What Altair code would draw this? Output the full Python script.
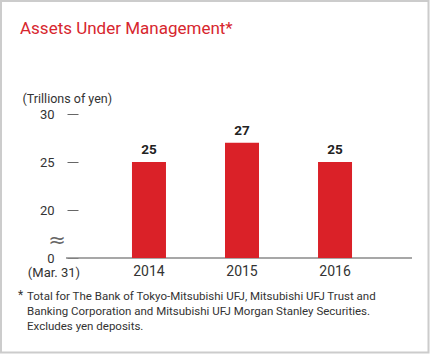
import altair as alt
import pandas as pd

# ---- data ----
years = ["2014", "2015", "2016"]
values = [25, 27, 25]
y_ticks = [15, 20, 25, 30]          # 15 is the axis floor shown as "0" (broken axis)
axis_floor = 15
title_text = "Assets Under Management*"
unit_text = "(Trillions of yen)"
date_text = "(Mar. 31)"
footnote_lines = [
    "Total for The Bank of Tokyo-Mitsubishi UFJ, Mitsubishi UFJ Trust and",
    "Banking Corporation and Mitsubishi UFJ Morgan Stanley Securities.",
    "Excludes yen deposits.",
]

df = pd.DataFrame({"year": years, "value": values})
one = pd.DataFrame({"k": [0]})

RED = "#da2128"
FONT = "Roboto"
W, H = 328, 144
LEFT, TOP = 78, 114

x_enc = alt.X(
    "year:N",
    sort=years,
    scale=alt.Scale(paddingInner=0.634, paddingOuter=0.58),
    axis=alt.Axis(
        title=None, domain=False, ticks=False, labelAngle=0,
        labelFontSize=14, labelColor="#333333", labelPadding=6, labelFont=FONT,
    ),
)
y_enc = alt.Y(
    "value:Q",
    scale=alt.Scale(domain=[axis_floor, 30], zero=False, nice=False),
    axis=alt.Axis(
        values=y_ticks,
        labelExpr="datum.value == 15 ? '0' : datum.label",
        domain=False, grid=False, tickSize=11, tickColor="#666666", tickWidth=1,
        labelFontSize=13, labelColor="#333333", labelPadding=13, labelFont=FONT,
        title=unit_text, titleAngle=0, titleAlign="left", titleBaseline="middle",
        titleX=-56, titleY=-16, titleFontSize=12.5, titleFontWeight="normal",
        titleColor="#333333", titleFont=FONT,
    ),
)

bars = alt.Chart(df).mark_bar(color=RED, size=34).encode(
    x=x_enc, y=y_enc, y2=alt.datum(axis_floor)
)
labels = alt.Chart(df).mark_text(
    baseline="bottom", dy=-5, fontSize=13.5, fontWeight="bold", color="#222222", font=FONT
).encode(x=x_enc, y=y_enc, text="value:Q")

baseline = alt.Chart(one).mark_rule(color="#8a8a8a", strokeWidth=1.5).encode(
    y=alt.datum(axis_floor), x=alt.value(-12), x2=alt.value(334)
)

border = alt.Chart(one).mark_rect(
    fillOpacity=0, stroke="#cccccc", strokeWidth=2
).encode(
    x=alt.value(-LEFT + 1), x2=alt.value(428.5 - LEFT),
    y=alt.value(-TOP + 1), y2=alt.value(352.5 - TOP),
)

title = alt.Chart(one).mark_text(
    text=title_text, align="left", baseline="alphabetic", fontSize=17,
    color="#d7262e", font=FONT,
).encode(x=alt.value(20 - LEFT), y=alt.value(34 - TOP))

wave = alt.Chart(one).mark_text(
    text="≈", align="center", baseline="middle", fontSize=21, color="#666666", font="DejaVu Sans",
).encode(x=alt.value(57 - LEFT), y=alt.value(241 - TOP))

date_lbl = alt.Chart(one).mark_text(
    text=date_text, align="center", baseline="middle", fontSize=13, color="#333333", font=FONT,
).encode(x=alt.value(54 - LEFT), y=alt.value(273 - TOP))

star = alt.Chart(one).mark_text(
    text="*", align="left", baseline="top", fontSize=12, color="#333333", font=FONT,
).encode(x=alt.value(18 - LEFT), y=alt.value(290 - TOP))

foot = alt.Chart(one).mark_text(
    text=footnote_lines, align="left", baseline="middle", fontSize=11.5,
    lineHeight=15, color="#333333", font=FONT,
).encode(x=alt.value(27 - LEFT), y=alt.value(297 - TOP))

chart = alt.layer(
    border, baseline, bars, labels, title, wave, date_lbl, star, foot
).properties(
    width=W, height=H,
    autosize=alt.AutoSizeParams(type="none"),
    padding={"left": LEFT, "top": TOP, "right": 430 - LEFT - W, "bottom": 354 - TOP - H},
    background="white",
).configure_view(stroke=None).configure_axis(labelFont=FONT)

chart.save("out.html", embed_options={"renderer": "svg", "actions": False})
